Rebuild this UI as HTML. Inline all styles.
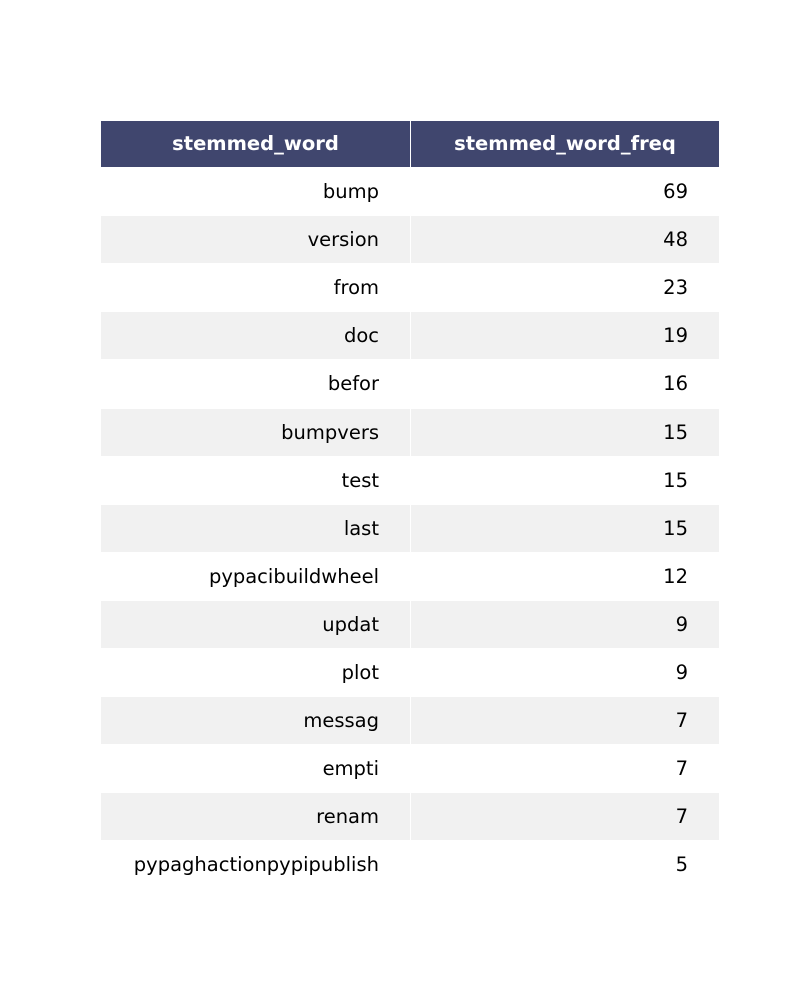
<!DOCTYPE html>
<html><head><meta charset="utf-8"><style>
body{margin:0;width:800px;height:1000px;background:#fff;font-family:"DejaVu Sans","Liberation Sans",sans-serif;position:relative;overflow:hidden}
.c{position:absolute;box-sizing:border-box;font-size:19.5px;white-space:nowrap}
</style></head><body>
<div id="tbl"></div>
<script>
const words=["bump","version","from","doc","befor","bumpvers","test","last","pypacibuildwheel","updat","plot","messag","empti","renam","pypaghactionpypipublish"];
const freqs=[69,48,23,19,16,15,15,15,12,9,9,7,7,7,5];
const headers=["stemmed_word","stemmed_word_freq"];
const tbl=document.getElementById('tbl');
const top0=121,rowH=48.1,x0=101,xm=410,x1=720;
function cell(x,y,w,h,bg,txt,align,pad,color,bold,name){
  const d=document.createElement('div');
  d.className='c';
  d.style.left=x+'px';d.style.top=y+'px';d.style.width=w+'px';d.style.height=h+'px';
  d.style.background=bg;d.style.textAlign=align;d.style.color=color;
  d.style.lineHeight=(h-1)+'px';
  if(align==='right')d.style.paddingRight=pad+'px';
  if(bold)d.style.fontWeight='bold';
  d.style.borderRight='1px solid #fff';d.style.borderBottom='1px solid #fff';
  d.textContent=txt;
  
  
  tbl.appendChild(d);
}
cell(x0,top0,xm-x0+1,47,'#40466e',headers[0],'center',0,'#fff',true,'header-stemmed-word');
cell(xm+1,top0,x1-xm-1,47,'#40466e',headers[1],'center',0,'#fff',true,'header-stemmed-word-freq');
for(let i=0;i<words.length;i++){
  const y=Math.round(top0+47+i*rowH);
  const h=Math.round(top0+47+(i+1)*rowH)-y;
  const bg=i%2===1?'#f1f1f1':'#fff';
  cell(x0,y,xm-x0+1,h,bg,words[i],'right',31,'#000',false,'word-cell');
  cell(xm+1,y,x1-xm-1,h,bg,String(freqs[i]),'right',31,'#000',false,'freq-cell');
}
</script>
</body></html>
